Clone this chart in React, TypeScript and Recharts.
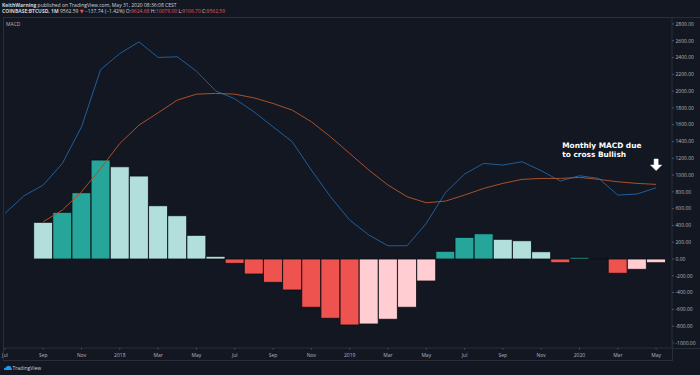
import React from 'react';
import { ComposedChart, Bar, Line, XAxis, YAxis, Cell, ReferenceDot } from 'recharts';

const months = [
  'Jul 2017', 'Aug 2017', 'Sep 2017', 'Oct 2017', 'Nov 2017', 'Dec 2017',
  'Jan 2018', 'Feb 2018', 'Mar 2018', 'Apr 2018', 'May 2018', 'Jun 2018',
  'Jul 2018', 'Aug 2018', 'Sep 2018', 'Oct 2018', 'Nov 2018', 'Dec 2018',
  'Jan 2019', 'Feb 2019', 'Mar 2019', 'Apr 2019', 'May 2019', 'Jun 2019',
  'Jul 2019', 'Aug 2019', 'Sep 2019', 'Oct 2019', 'Nov 2019', 'Dec 2019',
  'Jan 2020', 'Feb 2020', 'Mar 2020', 'Apr 2020', 'May 2020',
];

const macdLine = [
  544, 754, 881, 1139, 1575, 2258,
  2448, 2587, 2401, 2409, 2238, 2004,
  1908, 1754, 1575, 1397, 1060, 742,
  464, 286, 158, 158, 425, 790,
  1012, 1139, 1119, 1159, 1052, 929,
  992, 960, 762, 774, 849,
];

const signalLine = [
  null, null, 444, 583, 801, 1079,
  1377, 1595, 1742, 1893, 1964, 1973,
  1964, 1920, 1853, 1774, 1635, 1456,
  1258, 1060, 881, 742, 670, 690,
  762, 841, 901, 949, 960, 960,
  972, 949, 920, 901, 889,
];

const histogram = [
  null, null, 437, 556, 790, 1179,
  1099, 988, 635, 516, 282, 32,
  -52, -179, -278, -369, -575, -706,
  -786, -774, -718, -575, -262, 92,
  258, 301, 234, 218, 87, -44,
  20, -4, -170, -123, -44,
];

const xTickIndex = [0, 2, 4, 6, 8, 10, 12, 14, 16, 18, 20, 22, 24, 26, 28, 30, 32, 34];
const xTickLabels = ['Jul', 'Sep', 'Nov', '2018', 'Mar', 'May', 'Jul', 'Sep', 'Nov', '2019', 'Mar', 'May', 'Jul', 'Sep', 'Nov', '2020', 'Mar', 'May'];
const yTicks = [-1000, -800, -600, -400, -200, 0, 200, 400, 600, 800, 1000, 1200, 1400, 1600, 1800, 2000, 2200, 2400, 2600, 2800];

const annotationLines = ['Monthly MACD due', 'to cross Bullish'];

const C_DARK_TEAL = '#26a69a';
const C_LIGHT_TEAL = '#b2dfdb';
const C_RED = '#ef5350';
const C_PINK = '#ffcdd2';
const BG = '#131722';
const FRAME = '#2a2e39';
const TEXT = '#b2b5be';

const data = months.map((m, i) => ({
  i,
  month: m,
  macd: macdLine[i],
  signal: signalLine[i],
  hist: histogram[i],
}));

function histColor(i: number): string {
  const h = histogram[i];
  if (h == null) return 'transparent';
  let prev: number | null = null;
  for (let k = i - 1; k >= 0; k--) {
    if (histogram[k] != null) { prev = histogram[k] as number; break; }
  }
  if (h >= 0) {
    if (prev == null) return C_LIGHT_TEAL;
    return h >= prev ? C_DARK_TEAL : C_LIGHT_TEAL;
  }
  if (prev == null) return C_RED;
  return h < prev ? C_RED : C_PINK;
}

const ArrowShape = (props: any) => {
  const { cx, cy } = props;
  if (cx == null || cy == null) return null;
  const d = `M ${cx - 2} ${cy - 6} L ${cx + 2} ${cy - 6} L ${cx + 2} ${cy} L ${cx + 5.5} ${cy} L ${cx} ${cy + 5.5} L ${cx - 5.5} ${cy} L ${cx - 2} ${cy} Z`;
  return <path d={d} fill="#ffffff" stroke="#ffffff" strokeWidth={0.6} strokeLinejoin="round" />;
};

const NoteShape = (props: any) => {
  const { cx, cy } = props;
  if (cx == null || cy == null) return null;
  const f = "'DejaVu Sans', sans-serif";
  return (
    <g>
      <text x={cx} y={cy - 1.5} fill="#ffffff" fontSize={7.4} fontWeight={700} fontFamily={f}>{annotationLines[0]}</text>
      <text x={cx} y={cy + 7.3} fill="#ffffff" fontSize={7.4} fontWeight={700} fontFamily={f}>{annotationLines[1]}</text>
    </g>
  );
};

export default function App() {
  const font = "'Open Sans', 'DejaVu Sans', sans-serif";
  return (
    <div style={{ position: 'absolute', left: 0, top: 0, width: 700, height: 375, background: BG, overflow: 'hidden', fontFamily: font }}>
      <div style={{ position: 'absolute', left: 2, top: 1.5, fontSize: 5, lineHeight: '6px', color: '#d1d4dc', whiteSpace: 'nowrap' }}>
        <b>KeithWarning</b> published on TradingView.com, May 31, 2020 08:36:08 CEST
      </div>
      <div style={{ position: 'absolute', left: 2, top: 7.5, fontSize: 5, lineHeight: '6px', color: '#d1d4dc', whiteSpace: 'nowrap' }}>
        <b>COINBASE:BTCUSD, 1M</b> 9562.59 <span style={{ color: C_RED }}>▼</span> −137.74 (−1.42%) O:<span style={{ color: C_RED }}>9624.68</span> H:<span style={{ color: C_RED }}>10079.00</span> L:<span style={{ color: C_RED }}>9106.70</span> C:<span style={{ color: C_RED }}>9562.59</span>
      </div>
      <div style={{ position: 'absolute', left: 6, top: 20.5, fontSize: 5, lineHeight: '6px', color: TEXT, whiteSpace: 'nowrap' }}>MACD</div>

      <div style={{ position: 'absolute', left: 0, top: 0 }}>
        <ComposedChart width={700} height={375} data={data} margin={{ top: 17, right: 0, left: 3, bottom: 0 }}>
          <XAxis
            dataKey="i"
            type="number"
            domain={[-0.1, 34.83]}
            allowDataOverflow
            ticks={xTickIndex}
            tickFormatter={(v: number) => xTickLabels[xTickIndex.indexOf(v)] ?? ''}
            height={27}
            axisLine={{ stroke: FRAME }}
            tickLine={{ stroke: '#50535e' }}
            tickSize={1.5}
            tickMargin={3.5}
            tick={{ fontSize: 5, fill: TEXT, fontFamily: font }}
            interval={0}
          />
          <YAxis
            orientation="right"
            width={28}
            domain={[-1060, 2883]}
            allowDataOverflow
            ticks={yTicks}
            tickFormatter={(v: number) => v.toFixed(2)}
            axisLine={{ stroke: FRAME }}
            tickLine={{ stroke: '#50535e' }}
            tickSize={2}
            tickMargin={1.5}
            tick={{ fontSize: 5, fill: TEXT, fontFamily: font }}
            interval={0}
          />
          <Bar dataKey="hist" barSize={19} isAnimationActive={false} stroke="#0a0c10" strokeWidth={0.8}>
            {data.map((d) => (
              <Cell key={d.i} fill={histColor(d.i)} />
            ))}
          </Bar>
          <Line dataKey="macd" type="linear" stroke="#1f5e9c" strokeWidth={1} dot={false} isAnimationActive={false} />
          <Line dataKey="signal" type="linear" stroke="#a9502a" strokeWidth={1} dot={false} isAnimationActive={false} connectNulls={false} />
          <ReferenceDot x={34} y={1119} r={5} shape={ArrowShape} />
          <ReferenceDot x={29.1} y={1300} r={5} shape={NoteShape} />
        </ComposedChart>
      </div>

      <svg width={700} height={375} style={{ position: 'absolute', left: 0, top: 0, pointerEvents: 'none' }}>
        <line x1={3} y1={17.5} x2={700} y2={17.5} stroke={FRAME} strokeWidth={1} />
        <line x1={3.5} y1={17} x2={3.5} y2={361} stroke={FRAME} strokeWidth={1} />
        <line x1={672} y1={348.5} x2={700} y2={348.5} stroke={FRAME} strokeWidth={1} />
        <line x1={3} y1={360.5} x2={672} y2={360.5} stroke={FRAME} strokeWidth={1} />
        <line x1={672.5} y1={340} x2={672.5} y2={361} stroke={FRAME} strokeWidth={1} />
        <g transform="translate(3,364)">
          <path d="M1 6 Q0.5 3.5 3 3.5 Q4 1 6.5 2 Q8.5 2.2 8.5 4.5 Q9.5 5 9 6 Z" fill="#2196f3" />
        </g>
        <text x={12.5} y={370} fontSize={5} fill="#d1d4dc" fontFamily={font}>TradingView</text>
      </svg>
    </div>
  );
}
